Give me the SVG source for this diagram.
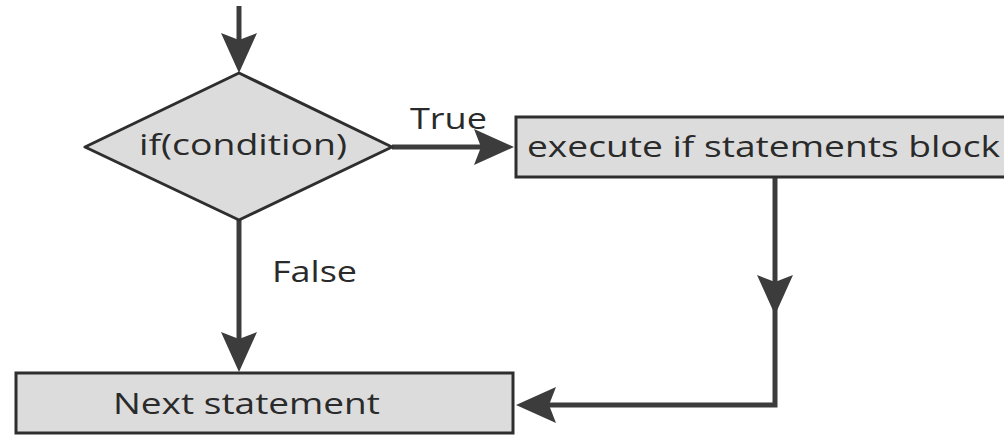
<svg xmlns="http://www.w3.org/2000/svg" width="1004" height="435" viewBox="0 0 1004 435">
  <style>
    .box { fill: #dcdcdc; stroke: #2e2e2e; stroke-width: 3; }
    .conn { fill: none; stroke: #3c3c3c; stroke-width: 5; }
    .txt { font-family: "Open Sans", "DejaVu Sans", sans-serif; font-size: 30px; fill: #2a2a2a; }
  </style>
  <defs>
    <marker id="arrow" viewBox="0 0 40 36" refX="8" refY="18" markerWidth="40" markerHeight="36" markerUnits="userSpaceOnUse" orient="auto">
      <path d="M0,0 L40,18 L0,36 L7,18 Z" fill="#3c3c3c"/>
    </marker>
  </defs>
  <rect width="1004" height="435" fill="#ffffff"/>
  <g id="connectors">
    <path class="conn" d="M239,6 V41" marker-end="url(#arrow)"/>
    <path class="conn" d="M392,147 H482" marker-end="url(#arrow)"/>
    <path class="conn" d="M239,220 V340" marker-end="url(#arrow)"/>
    <path class="conn" d="M775,177 V283" marker-end="url(#arrow)"/>
    <path class="conn" d="M775,283 V405 H548" marker-end="url(#arrow)"/>
  </g>
  <g id="node-condition">
    <path class="box" stroke-linejoin="round" d="M239,73 L392,147 L239,220 L85,147 Z"/>
    <text class="txt" x="139" y="155" textLength="208" lengthAdjust="spacingAndGlyphs">if(condition)</text>
  </g>
  <g id="node-execute">
    <rect class="box" x="516" y="117" width="500" height="60"/>
    <text class="txt" x="527" y="157" textLength="473" lengthAdjust="spacingAndGlyphs">execute if statements block</text>
  </g>
  <g id="node-next">
    <rect class="box" x="16" y="373" width="497" height="60"/>
    <text class="txt" x="113" y="414" textLength="267" lengthAdjust="spacingAndGlyphs">Next statement</text>
  </g>
  <g id="labels">
    <text class="txt" x="410" y="129" textLength="77" lengthAdjust="spacingAndGlyphs">True</text>
    <text class="txt" x="272" y="282" textLength="85" lengthAdjust="spacingAndGlyphs">False</text>
  </g>
</svg>
